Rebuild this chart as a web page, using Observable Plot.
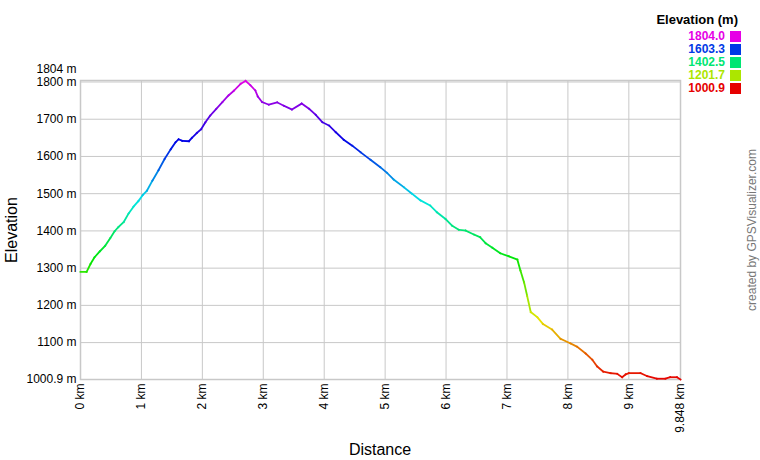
<!DOCTYPE html>
<html>
<head>
<meta charset="utf-8">
<script src="https://cdn.jsdelivr.net/npm/d3@7"></script>
<script src="https://cdn.jsdelivr.net/npm/@observablehq/plot@0.6"></script>
<style>
  body { margin: 0; background: #fff; font-family: "Liberation Sans", Arial, sans-serif; }
  #wrap { position: relative; width: 760px; height: 460px; }
  #legend { position: absolute; right: 19px; top: 12px; text-align: right; font-weight: bold; font-size: 12px; }
  #legend .title { font-size: 13px; color: #000; margin-bottom: 3px; margin-right: 3px; }
  #legend .row { height: 13px; line-height: 13px; display: flex; justify-content: flex-end; align-items: center; }
  #legend .sw { display: inline-block; width: 11px; height: 11px; margin-left: 5px; }
  #credit { position: absolute; left: 752px; top: 230px; transform: translate(-50%, -50%) rotate(-90deg); white-space: nowrap; font-size: 12px; line-height: 13px; color: #777; }
  #ylab { position: absolute; left: 12px; top: 230px; transform: translate(-50%, -50%) rotate(-90deg); white-space: nowrap; font-size: 16px; color: #000; }
  #xlab { position: absolute; left: 380px; top: 450px; transform: translate(-50%, -50%); white-space: nowrap; font-size: 16px; color: #000; }
</style>
</head>
<body>
<div id="wrap"></div>
<script>
// Profile data (km, m)
const distKm = [0, 0.10, 0.164, 0.23, 0.317, 0.405, 0.49, 0.56, 0.62, 0.71, 0.79, 0.87, 0.95, 1.02, 1.09, 1.18, 1.28, 1.38, 1.48, 1.56, 1.61, 1.67, 1.78, 1.83, 1.91, 1.98, 2.05, 2.13, 2.23, 2.33, 2.43, 2.52, 2.63, 2.71, 2.79, 2.87, 2.91, 2.98, 3.09, 3.23, 3.34, 3.47, 3.63, 3.75, 3.86, 3.97, 4.08, 4.19, 4.32, 4.46, 4.60, 4.76, 4.92, 5.03, 5.14, 5.31, 5.44, 5.58, 5.74, 5.85, 5.99, 6.10, 6.21, 6.32, 6.46, 6.56, 6.65, 6.76, 6.89, 7.03, 7.17, 7.22, 7.28, 7.33, 7.39, 7.50, 7.59, 7.74, 7.88, 8.04, 8.15, 8.29, 8.40, 8.48, 8.58, 8.70, 8.81, 8.89, 8.95, 9.00, 9.19, 9.30, 9.46, 9.60, 9.68, 9.79, 9.848];
const elevM = [1290, 1290, 1311, 1329, 1345, 1360, 1381, 1399, 1410, 1424, 1447, 1465, 1480, 1496, 1508, 1535, 1563, 1593, 1619, 1638, 1646, 1642, 1641, 1650, 1663, 1673, 1692, 1710, 1728, 1746, 1764, 1777, 1795, 1803, 1791, 1777, 1761, 1746, 1739, 1745, 1736, 1726, 1742, 1728, 1712, 1692, 1683, 1665, 1645, 1629, 1611, 1591, 1571, 1556, 1538, 1517, 1500, 1482, 1468, 1450, 1432, 1414, 1403, 1401, 1390, 1383, 1367, 1355, 1340, 1332, 1323, 1294, 1262, 1226, 1182, 1168, 1150, 1135, 1110, 1098, 1089, 1071, 1054, 1036, 1022, 1018, 1016, 1007, 1015, 1018, 1018, 1010, 1003, 1003, 1007, 1007, 1000.9];

const elevMin = 1000.9, elevMax = 1804;
const xTicks = [0, 1, 2, 3, 4, 5, 6, 7, 8, 9, 9.848];
const yTicks = [1000.9, 1100, 1200, 1300, 1400, 1500, 1600, 1700, 1800];
const yTopTick = [1804];
const legendValues = [1804.0, 1603.3, 1402.5, 1201.7, 1000.9];

const hueColor = (t) => d3.hsl(t * 300, 1, 0.45).formatHex();
const colorOf = (v) => hueColor((v - elevMin) / (elevMax - elevMin));

const segments = d3.range(distKm.length - 1).map(i => ({
  x1: distKm[i], y1: elevM[i], x2: distKm[i + 1], y2: elevM[i + 1],
  e: (elevM[i] + elevM[i + 1]) / 2
}));

const chart = Plot.plot({
  width: 760,
  height: 460,
  marginLeft: 80,
  marginRight: 80,
  marginTop: 80,
  marginBottom: 81,
  style: { fontFamily: "'Liberation Sans', Arial, sans-serif", fontSize: "12px", color: "#000", background: "#fff" },
  x: { domain: [0, 9.848] },
  y: { domain: [elevMin, elevMax] },
  color: { type: "linear", domain: [elevMin, elevMax], interpolate: () => hueColor },
  marks: [
    Plot.gridX(d3.range(0, 10), { stroke: "#c8c8c8", strokeOpacity: 1 }),
    Plot.gridY(yTicks, { stroke: "#c8c8c8", strokeOpacity: 1 }),
    Plot.frame({ stroke: "#c8c8c8", strokeWidth: 1.5 }),
    Plot.axisY(yTicks, { tickSize: 0, tickPadding: 4, label: null, tickFormat: d => d + " m", fontSize: 12 }),
    Plot.axisY(yTopTick, { tickSize: 0, tickPadding: 4, label: null, tickFormat: d => d + " m", dy: -11, fontSize: 12 }),
    Plot.axisX(xTicks, { tickSize: 0, tickPadding: 4, label: null, tickRotate: -90, tickFormat: d => d + " km", fontSize: 12 }),
    Plot.link(segments, { x1: "x1", y1: "y1", x2: "x2", y2: "y2", stroke: d => colorOf(d.e), strokeWidth: 1.8, strokeLinecap: "square" })
  ]
});

const wrap = document.getElementById("wrap");
wrap.appendChild(chart);

const legend = document.createElement("div");
legend.id = "legend";
legend.innerHTML = `<div class="title">Elevation (m)</div>` +
  legendValues.map(v => `<div class="row"><span style="color:${colorOf(v)}">${v.toFixed(1)}</span><span class="sw" style="background:${colorOf(v)}"></span></div>`).join("");
wrap.appendChild(legend);

const credit = document.createElement("div");
credit.id = "credit"; credit.textContent = "created by GPSVisualizer.com";
wrap.appendChild(credit);
const ylab = document.createElement("div");
ylab.id = "ylab"; ylab.textContent = "Elevation";
wrap.appendChild(ylab);
const xlab = document.createElement("div");
xlab.id = "xlab"; xlab.textContent = "Distance";
wrap.appendChild(xlab);
</script>
</body>
</html>
